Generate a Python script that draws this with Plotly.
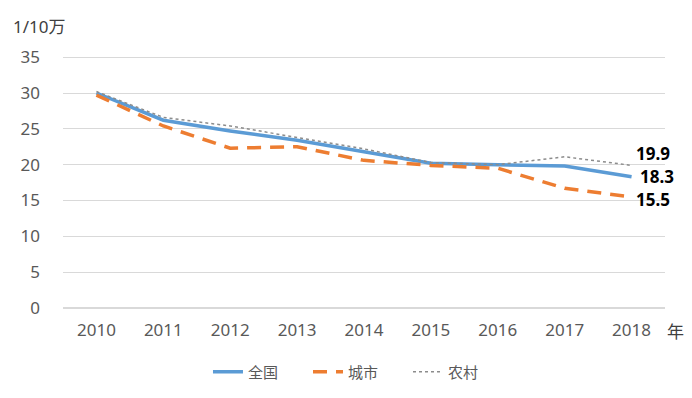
import plotly.graph_objects as go

years = [2010, 2011, 2012, 2013, 2014, 2015, 2016, 2017, 2018]
national = [30.0, 26.2, 24.7, 23.4, 21.8, 20.2, 20.0, 19.8, 18.3]
urban = [29.7, 25.4, 22.3, 22.5, 20.6, 19.9, 19.5, 16.7, 15.5]
rural = [30.2, 26.6, 25.4, 23.8, 22.2, 20.3, 20.0, 21.1, 19.9]
end_labels = ["18.3", "15.5", "19.9"]
y_ticks = [0, 5, 10, 15, 20, 25, 30, 35]

font_main = "Noto Sans, Noto Sans CJK SC, sans-serif"

fig = go.Figure()
fig.add_trace(go.Scatter(x=years, y=national, mode="lines", name="全国",
                         line=dict(color="#5B9BD5", width=3.5)))
fig.add_trace(go.Scatter(x=years, y=urban, mode="lines", name="城市",
                         line=dict(color="#ED7D31", width=3.5, dash="14px,9px")))
fig.add_trace(go.Scatter(x=years, y=rural, mode="lines", name="农村",
                         line=dict(color="#8C8C8C", width=1.5, dash="dot")))

# end labels
last = [national[-1], urban[-1], rural[-1]]
yshifts = [0, -3, 12]
xshifts = [6, 2, 2]
for val, txt, ys, xs in zip(last, end_labels, yshifts, xshifts):
    fig.add_annotation(x=years[-1], y=val, text="<b>%s</b>" % txt, showarrow=False,
                       xanchor="left", xshift=xs, yshift=ys,
                       font=dict(size=17, color="#000000", family=font_main))

fig.add_annotation(xref="x domain", yref="y", x=0, y=y_ticks[-1], xshift=-52, yshift=17,
                   xanchor="left", yanchor="bottom",
                   text="1/10万", showarrow=False,
                   font=dict(size=17, color="#404040", family=font_main))
fig.add_annotation(xref="paper", yref="paper", x=1, y=0, xshift=0, yshift=-10,
                   xanchor="left", yanchor="top",
                   text="年", showarrow=False,
                   font=dict(size=17, color="#404040", family=font_main))

# page has an 8px body margin, so the figure is sized/offset to compensate
fig.update_layout(
    width=684, height=390,
    margin=dict(l=55, r=27, t=42, b=90, autoexpand=False),
    paper_bgcolor="white", plot_bgcolor="white",
    font=dict(family=font_main, size=17, color="#595959"),
    showlegend=True,
    legend=dict(orientation="h", x=0.49, xanchor="center", y=-0.248, yanchor="middle",
                font=dict(size=15, color="#595959"),
                entrywidth=55, entrywidthmode="pixels"),
    xaxis=dict(range=[2009.5, 2018.5], tickvals=years, showgrid=False, showline=False,
               zeroline=False, ticks="", automargin=False,
               tickfont=dict(size=17, color="#595959")),
    yaxis=dict(range=[0, 36], tickvals=y_ticks, showgrid=True, gridcolor="#D9D9D9",
               gridwidth=1, zeroline=True, zerolinecolor="#D9D9D9", showline=False,
               ticks="", automargin=False, tickfont=dict(size=17, color="#595959")),
)
fig.update_yaxes(ticklabelstandoff=22)
fig.update_xaxes(ticklabelstandoff=10)

fig.write_html("out.html")
